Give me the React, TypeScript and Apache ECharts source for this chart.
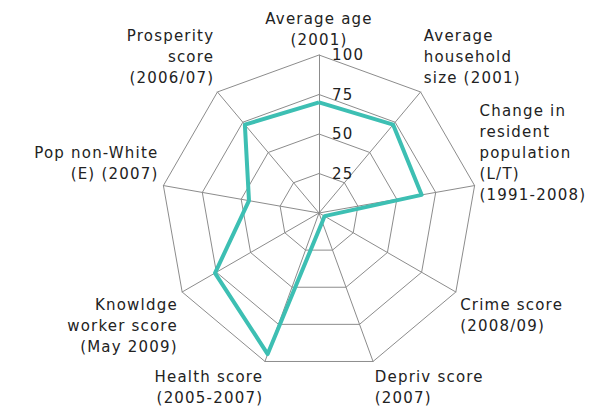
import React, { useEffect, useRef } from 'react';
import * as echarts from 'echarts';

// Indicators in clockwise order, starting at the top
const indicatorNames = [
  'Average age\n(2001)',
  'Average\nhousehold\nsize (2001)',
  'Change in\nresident\npopulation\n(L/T)\n(1991-2008)',
  'Crime score\n(2008/09)',
  'Depriv score\n(2007)',
  'Health score\n(2005-2007)',
  'Knowldge\nworker score\n(May 2009)',
  'Pop non-White\n(E) (2007)',
  'Prosperity\nscore\n(2006/07)',
];
const scores = [70, 73, 66, 4, 6, 95, 76, 45, 73];
const tickValues = [0, 25, 50, 75, 100];

const LINE_H = 21;

export default function App() {
  const ref = useRef<HTMLDivElement>(null);
  useEffect(() => {
    if (!ref.current) return;
    const chart = echarts.init(ref.current, undefined, { renderer: 'svg' });
    const maxV = tickValues[tickValues.length - 1];
    const minV = tickValues[0];
    const step = tickValues[1] - tickValues[0];
    const n = indicatorNames.length;
    // radar lays indicators out counter-clockwise: reorder
    const order = [0, ...Array.from({ length: n - 1 }, (_, i) => n - 1 - i)];
    const radarIndicators = order.map((i) => ({ name: indicatorNames[i], min: minV, max: maxV }));
    const radarValues = order.map((i) => scores[i]);
    const center = [319, 213];
    const radius = 158;
    const font = 'DejaVu Sans';

    const labelFormatter = (value: string, index: number) => {
      const deg = 90 - (index * 360) / n;
      const sin = Math.sin((deg * Math.PI) / 180);
      const lines = value.split('\n').length;
      // labels near horizontal (upper side) sit above their spoke in the reference;
      // the tall right-hand one is kept just clear of its neighbour
      if (Math.abs(sin) < 0.3 && sin > 0) {
        const pad = lines > 3 ? lines - 2 : lines;
        return value + '\n '.repeat(pad);
      }
      return value;
    };

    chart.setOption({
      animation: false,
      backgroundColor: '#ffffff',
      radar: {
        center,
        radius,
        startAngle: 90,
        shape: 'polygon',
        splitNumber: tickValues.length - 1,
        indicator: radarIndicators,
        axisName: { show: false },
        axisLine: { lineStyle: { color: '#8c8c8c', width: 1 } },
        splitLine: { lineStyle: { color: '#8c8c8c', width: 1 } },
        splitArea: { show: false },
      },
      polar: [
        { center, radius },
        { center, radius },
      ],
      angleAxis: [
        {
          polarIndex: 0,
          type: 'category',
          data: indicatorNames,
          startAngle: 90 + 180 / n,
          clockwise: true,
          boundaryGap: true,
          axisLine: { show: false },
          axisTick: { show: false },
          splitLine: { show: false },
          axisLabel: {
            show: true,
            interval: 0,
            margin: 5,
            color: '#222',
            fontFamily: font,
            fontSize: 15,
            lineHeight: LINE_H,
            formatter: labelFormatter,
          },
        },
        {
          polarIndex: 1,
          type: 'value',
          startAngle: 90,
          show: false,
        },
      ],
      radiusAxis: [
        { polarIndex: 0, type: 'value', min: minV, max: maxV, show: false },
        {
          polarIndex: 1,
          type: 'value',
          min: minV,
          max: maxV,
          interval: step,
          axisLine: { show: false },
          axisTick: { show: false },
          splitLine: { show: false },
          axisLabel: {
            show: true,
            align: 'left',
            margin: -13,
            color: '#222',
            fontFamily: font,
            fontSize: 15,
            formatter: (v: number) => (v === minV ? '' : String(v)),
          },
        },
      ],
      series: [
        {
          type: 'radar',
          symbol: 'none',
          lineStyle: { color: '#3dbfb3', width: 4 },
          itemStyle: { color: '#3dbfb3' },
          data: [{ value: radarValues, name: 'Area' }],
        },
      ],
    });
    return () => chart.dispose();
  }, []);
  return (
    <div
      ref={ref}
      style={{
        position: 'fixed',
        left: 0,
        top: 0,
        width: 603,
        height: 409,
        letterSpacing: '1.2px',
        background: '#fff',
      }}
    />
  );
}
